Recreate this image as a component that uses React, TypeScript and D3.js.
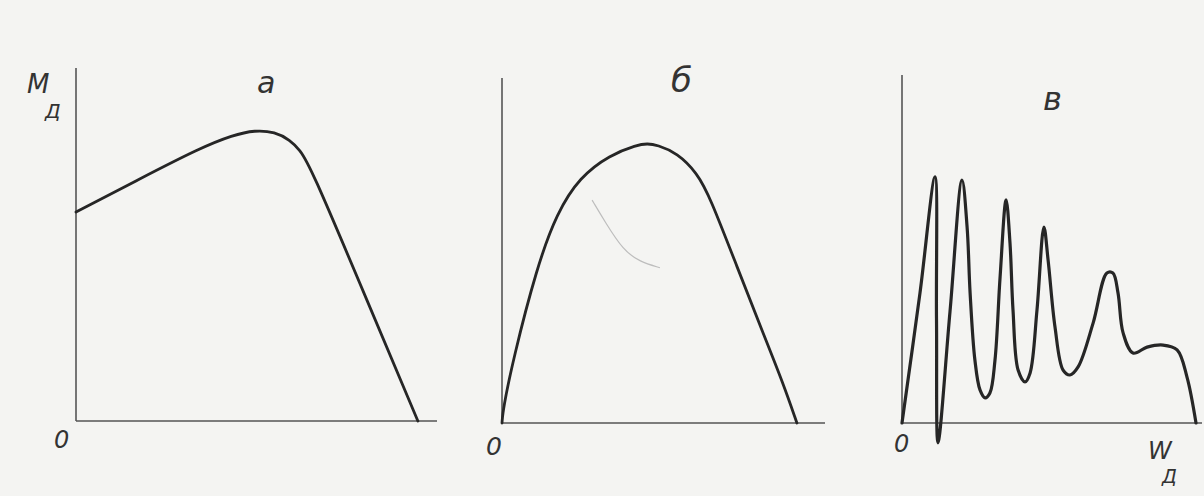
import * as d3 from 'd3';
import React from 'react';

// panel а: M_Д(w) rising then falling
const aX = [0, 17.7, 34.3, 43.5, 49.6, 55.1, 59.3, 62.0, 64.8, 80, 94.7];
const aY = [59.2, 68.6, 77.3, 81.0, 82.4, 81.9, 79.6, 76.8, 72.5, 35.7, 0];

// panel б: hump
const bX = [0, 0.3, 3.4, 10.8, 17.0, 24.1, 33.4, 41.8, 45.0, 48.0, 54.2, 60.4, 64.4, 72.8, 80.8, 87.0, 91.3];
const bY = [0, 3.8, 18.3, 45.2, 60.9, 71.3, 77.7, 80.6, 81.0, 80.6, 78.3, 72.5, 65.5, 45.2, 26.1, 11.6, 0];
// faint pencil stroke inside panel б
const bFaintX = [27.9, 31.9, 37.5, 42.7, 48.9];
const bFaintY = [64.6, 58.3, 50.1, 46.7, 45.0];

// panel в: oscillating torque
const cX = [0, 6.0, 11.0, 11.5, 12.0, 16.0, 20.0, 21.7, 22.7, 24.3, 26.0, 27.7, 29.3, 31.0, 32.7, 34.7,
  36.0, 37.0, 38.7, 41.0, 42.7, 45.0, 47.3, 48.7, 51.0, 53.7, 56.0, 58.7, 63.7, 68.3, 70.3,
  72.0, 73.7, 77.0, 81.7, 87.0, 91.7, 95.0, 98.0];
const cY = [0, 37.4, 70.7, 30, -5.7, 32, 69.8, 56.3, 37.4, 18.1, 9.5, 7.2, 8.6, 18.1, 42.0, 64.1,
  51.7, 32.5, 15.2, 11.8, 14.4, 32.5, 56.3, 46.8, 27.6, 15.2, 13.8, 16.1, 28.7, 43.1, 43.1,
  37.4, 25.9, 20.1, 21.8, 22.4, 21.0, 13.2, 0];

const panelTitles = ['а', 'б', 'в'];

const frames = [
  { left: 76, right: 437, bottom: 421, top: 68 },
  { left: 502, right: 825, bottom: 423, top: 78 },
  { left: 902, right: 1202, bottom: 423, top: 75 },
];

const zip = (xs: number[], ys: number[]) => xs.map((x, i) => [x, ys[i]] as [number, number]);

const font = '"DejaVu Sans", sans-serif';
const ink = '#262626';

function Panel({ frame, pts, faint, curve, width }: any) {
  const x = d3.scaleLinear().domain([0, 100]).range([frame.left, frame.right]);
  const y = d3.scaleLinear().domain([0, 100]).range([frame.bottom, frame.top]);
  const line = d3.line<[number, number]>()
    .x(d => x(d[0]))
    .y(d => y(d[1]))
    .curve(curve);

  return (
    <g>
      <line x1={x(0)} x2={x(0)} y1={y(0)} y2={y(100)} stroke="#555" strokeWidth={1.6} />
      <line x1={x(0)} x2={x(100)} y1={y(0)} y2={y(0)} stroke="#555" strokeWidth={1.6} />
      {faint && <path d={line(faint) || ''} fill="none" stroke="#bdbdbd" strokeWidth={1.2} />}
      <path d={line(pts) || ''} fill="none" stroke={ink} strokeWidth={width}
        strokeLinejoin="round" strokeLinecap="round" />
    </g>
  );
}

export default function App() {
  const W = 1204, H = 496;
  const smooth = d3.curveBasis;
  const sharp = d3.curveCatmullRom.alpha(0.5);
  return (
    <svg width={W} height={H} style={{ position: 'absolute', left: 0, top: 0, background: '#f4f4f2' }}>
      <rect width={W} height={H} fill="#f4f4f2" />
      <Panel frame={frames[0]} pts={zip(aX, aY)} curve={smooth} width={2.8} />
      <Panel frame={frames[1]} pts={zip(bX, bY)} faint={zip(bFaintX, bFaintY)} curve={smooth} width={2.8} />
      <Panel frame={frames[2]} pts={zip(cX, cY)} curve={sharp} width={3.2} />

      <g fontFamily={font} fontStyle="italic" fill="#333">
        <text x={27} y={93} fontSize={26}>M</text>
        <text x={45} y={118} fontSize={20}>Д</text>
        <text x={257} y={93} fontSize={30}>{panelTitles[0]}</text>
        <text x={671} y={92} fontSize={34}>{panelTitles[1]}</text>
        <text x={1043} y={110} fontSize={32}>{panelTitles[2]}</text>
        <text x={54} y={448} fontSize={24}>0</text>
        <text x={486} y={455} fontSize={25}>0</text>
        <text x={894} y={452} fontSize={24}>0</text>
        <text x={1148} y={459} fontSize={24}>W</text>
        <text x={1162} y={483} fontSize={19}>Д</text>
      </g>
    </svg>
  );
}
